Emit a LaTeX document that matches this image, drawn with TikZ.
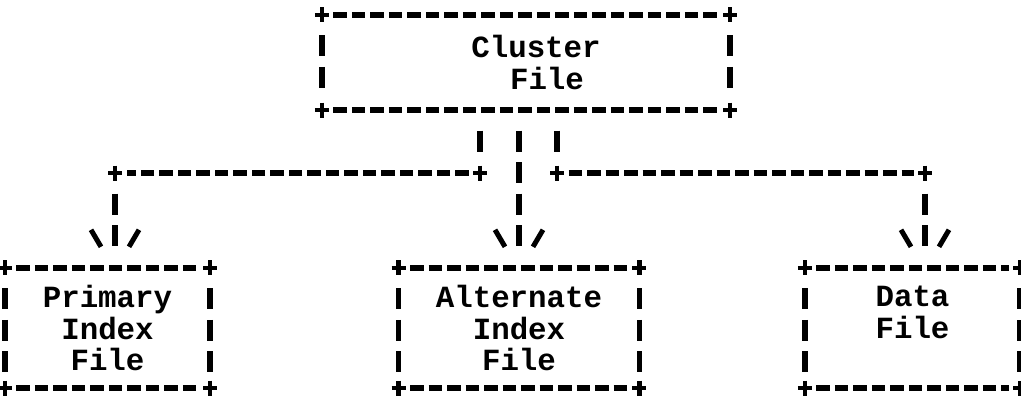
\documentclass[tikz,border=0pt]{standalone}
\usepackage{fontspec}
\setmonofont{Liberation Mono}
\usetikzlibrary{calc}
\newcommand\boxfont{\ttfamily\bfseries\fontsize{30.8pt}{31.5pt}\selectfont}
\newcommand\crossat[1]{\draw[pm] ($(#1)+(-7,0)$) -- ($(#1)+(7,0)$) ($(#1)+(0,-7.5)$) -- ($(#1)+(0,7.5)$);}
\newcommand\barbsat[1]{\draw[barb] ($(#1)+(-24,-38)$) -- ++(10,17) ($(#1)+(24,-38)$) -- ++(-10,17);}
\newcommand\asciibox[1]{%
  \draw[hd] (#1.north west) -- (#1.north east);
  \draw[hd] (#1.south west) -- (#1.south east);
  \draw[vd] (#1.north west) -- (#1.south west);
  \draw[vd] (#1.north east) -- (#1.south east);
  \crossat{#1.north west}\crossat{#1.north east}
  \crossat{#1.south west}\crossat{#1.south east}}
\tikzset{
  hd/.style={line width=6pt, dash pattern=on 13.5pt off 5pt, shorten <=11.5pt, shorten >=11.5pt},
  vd/.style={line width=5.5pt, dash pattern=on 21pt off 10.5pt, shorten <=20.5pt, shorten >=13pt},
  tipped/.style={shorten >=21pt},
  pm/.style={line width=4.5pt},
  barb/.style={line width=5pt},
  filebox/.style={inner sep=0pt, align=center, font=\boxfont, minimum height=120pt},
}
\begin{document}
\begin{tikzpicture}[x=1pt,y=-1pt]
\useasboundingbox[fill=white] (0,0) rectangle (1021,402);
% boxes
\node[filebox, minimum width=408pt, minimum height=95pt] (cl) at (526,62.5)
  {\hspace*{20pt}Cluster\\\hspace*{42pt}File};
\node[filebox, minimum width=205pt] (prim) at (107.5,328) {Primary\\Index\\File};
\node[filebox, minimum width=240.5pt] (alt) at (519,328) {Alternate\\Index\\File};
\node[filebox, minimum width=215pt] (data) at (912.5,328) {Data\\File\\~};
\asciibox{cl}
\asciibox{prim}
\asciibox{alt}
\asciibox{data}
% junctions
\coordinate (j1) at (480,173);
\coordinate (j2) at (115,173);
\coordinate (j3) at (557,173);
\coordinate (j4) at (925,173);
% left connector
\draw[vd] (cl.south -| j1) -- (j1);
\draw[hd] (j1) -- (j2);
\draw[vd, tipped] (j2) -- (prim.north -| j2);
\crossat{j1}\crossat{j2}
\barbsat{prim.north -| j2}
% middle connector
\draw[vd, tipped] (alt.north |- cl.south) -- (alt.north);
\barbsat{alt.north}
% right connector
\draw[vd] (cl.south -| j3) -- (j3);
\draw[hd] (j3) -- (j4);
\draw[vd, tipped] (j4) -- (data.north -| j4);
\crossat{j3}\crossat{j4}
\barbsat{data.north -| j4}
\end{tikzpicture}
\end{document}
